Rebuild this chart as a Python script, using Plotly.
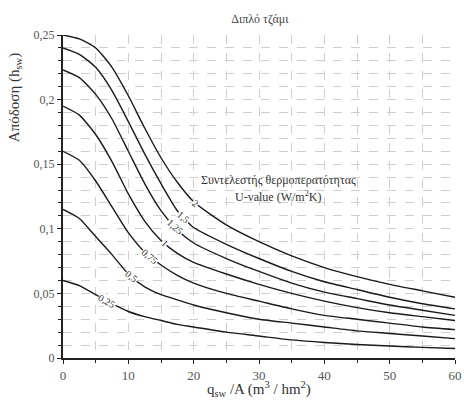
import numpy as np
import plotly.graph_objects as go

# ---- data ----
x_vals = [0, 2.5, 5, 7.5, 10, 12.5, 15, 17.5, 20, 25, 30, 35, 40, 45, 50, 55, 60]
u_labels = ["2", "1,5", "1,25", "1", "0,75", "0,5", "0,25"]
h_u2    = [0.250, 0.247, 0.240, 0.225, 0.203, 0.178, 0.155, 0.136, 0.121, 0.103, 0.090, 0.079, 0.070, 0.063, 0.057, 0.052, 0.047]
h_u1_5  = [0.240, 0.235, 0.225, 0.207, 0.183, 0.158, 0.135, 0.114, 0.101, 0.088, 0.077, 0.067, 0.059, 0.053, 0.047, 0.042, 0.038]
h_u1_25 = [0.223, 0.217, 0.204, 0.185, 0.160, 0.135, 0.114, 0.099, 0.089, 0.077, 0.067, 0.058, 0.051, 0.046, 0.041, 0.037, 0.033]
h_u1    = [0.195, 0.188, 0.173, 0.152, 0.127, 0.106, 0.091, 0.081, 0.074, 0.065, 0.057, 0.050, 0.044, 0.039, 0.035, 0.032, 0.029]
h_u0_75 = [0.160, 0.153, 0.137, 0.117, 0.097, 0.082, 0.072, 0.064, 0.058, 0.050, 0.044, 0.038, 0.033, 0.030, 0.027, 0.024, 0.022]
h_u0_5  = [0.115, 0.108, 0.094, 0.080, 0.065, 0.055, 0.049, 0.045, 0.041, 0.035, 0.030, 0.027, 0.024, 0.021, 0.019, 0.017, 0.015]
h_u0_25 = [0.060, 0.056, 0.049, 0.042, 0.036, 0.032, 0.029, 0.026, 0.024, 0.020, 0.017, 0.014, 0.012, 0.0105, 0.0093, 0.0082, 0.0073]
series = [h_u2, h_u1_5, h_u1_25, h_u1, h_u0_75, h_u0_5, h_u0_25]
label_x = [20.3, 18.5, 17.1, 15.6, 13.3, 10.5, 6.8]
label_angle = [37, 40, 42, 45, 40, 38, 30]

y_ticks = [0, 0.05, 0.1, 0.15, 0.2, 0.25]
y_ticktext = ["0", "0,05", "0,1", "0,15", "0,2", "0,25"]
x_ticks = [0, 10, 20, 30, 40, 50, 60]
x_ticktext = ["0", "10", "20", "30", "40", "50", "60"]

FONT = "Liberation Serif"

fig = go.Figure()
for ys in series:
    fig.add_trace(go.Scatter(x=x_vals, y=ys, mode="lines", line=dict(color="#1a1a1a", width=1.4, shape="spline", smoothing=0.6),
                             showlegend=False, hoverinfo="skip"))

for lbl, lx, ang, ys in zip(u_labels, label_x, label_angle, series):
    ly = float(np.interp(lx, x_vals, ys))
    fig.add_annotation(x=lx, y=ly, text=lbl, showarrow=False, textangle=ang,
                       font=dict(family=FONT, size=10, color="#333"), bgcolor="white", borderpad=0)

fig.add_annotation(x=33.0, y=0.138, text="Συντελεστής θερμοπερατότητας", showarrow=False,
                   font=dict(family=FONT, size=12, color="#333"))
fig.add_annotation(x=33.0, y=0.125, text="U-value (W/m<sup>2</sup>K)", showarrow=False,
                   font=dict(family=FONT, size=12, color="#333"))

# axis titles placed as in the reference
fig.add_annotation(xref="paper", yref="paper", x=0.5, y=0, yanchor="top", yshift=-19, showarrow=False,
                   text="q<sub>sw</sub> /A (m<sup>3</sup> / hm<sup>2</sup>)", font=dict(family=FONT, size=15, color="#333"))
fig.add_annotation(xref="paper", yref="paper", x=-0.122, y=0.805, xanchor="center", yanchor="middle", textangle=-90,
                   showarrow=False, text="Απόδοση (h<sub>sw</sub>)", font=dict(family=FONT, size=15, color="#333"))

fig.update_layout(
    width=464, height=403,
    margin=dict(l=63, r=9, t=35, b=45, autoexpand=False),
    paper_bgcolor="white", plot_bgcolor="white",
    font=dict(family=FONT, size=12, color="#444"),
    title=dict(text="Διπλό τζάμι", x=0.56, xanchor="center", y=0.953, yanchor="middle",
               font=dict(family=FONT, size=12, color="#444")),
    showlegend=False,
)
fig.update_xaxes(range=[0, 60], tickvals=x_ticks, ticktext=x_ticktext, automargin=False,
                 showline=True, linecolor="#222", linewidth=2, ticks="outside", tickcolor="#222", ticklen=4,
                 showgrid=True, gridcolor="#cfcfcf", griddash="dash", gridwidth=1,
                 minor=dict(dtick=5, showgrid=True, gridcolor="#cfcfcf", griddash="dash", ticks="outside", ticklen=3, tickcolor="#222"),
                 zeroline=False, tickfont=dict(family=FONT, size=13, color="#555"))
fig.update_yaxes(range=[0, 0.25], tickvals=y_ticks, ticktext=y_ticktext, automargin=False,
                 showline=True, linecolor="#222", linewidth=2, ticks="outside", tickcolor="#222", ticklen=4,
                 showgrid=True, gridcolor="#cfcfcf", griddash="dash", gridwidth=1,
                 minor=dict(dtick=0.01, showgrid=True, gridcolor="#cfcfcf", griddash="dash", ticks="outside", ticklen=3, tickcolor="#222"),
                 zeroline=False, tickfont=dict(family=FONT, size=12, color="#555"))

fig.write_html("out.html", config={"displayModeBar": False},
               post_script="document.body.style.margin='0';document.body.style.overflow='hidden';")
